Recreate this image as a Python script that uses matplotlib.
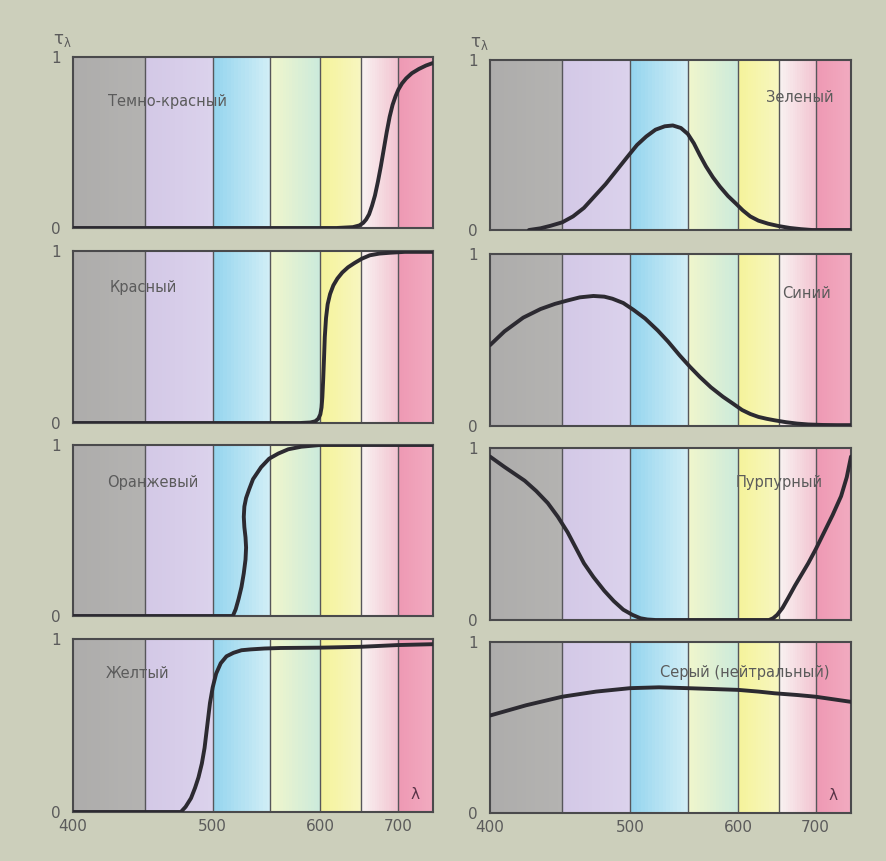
import numpy as np
import matplotlib
matplotlib.use("Agg")
import matplotlib.pyplot as plt
from matplotlib.colors import ListedColormap, to_rgb

plt.rcParams['font.family'] = ['DejaVu Sans']

# ---- spectral x-scale (wavelength -> relative position) ----
SCALE_NM = [400, 450, 500, 550, 600, 650, 700, 750]
SCALE_FR = [0.0, 0.200, 0.388, 0.548, 0.687, 0.800, 0.902, 1.0]

# ---- coloured spectral bands ----
band_edges = [400, 450, 500, 550, 600, 650, 700, 750]
band_colors = [
    ("#adacab", "#b4b3b1"),   # grey
    ("#d3c8e6", "#dbd2ec"),   # lavender
    ("#93d4ee", "#d2eef6"),   # blue
    ("#f1f6cc", "#cbeadb"),   # pale green
    ("#f5f39a", "#f7f6c0"),   # yellow
    ("#f9f4f2", "#f2c3d1"),   # white-pink
    ("#ee98b3", "#f1abc0"),   # pink-red
]

# ---- transmission curves tau(lambda) ----
darkred_nm  = [400, 620, 640, 648, 653, 657, 661, 665, 669, 673, 677, 681, 685, 689,
               693, 697, 701, 706, 712, 720, 730, 740, 750]
darkred_tau = [0, 0, 0.005, 0.015, 0.03, 0.05, 0.08, 0.13, 0.19, 0.27, 0.36, 0.46, 0.56, 0.65,
               0.72, 0.77, 0.81, 0.845, 0.875, 0.905, 0.93, 0.95, 0.965]

red_nm  = [400, 580, 590, 595, 598, 600, 601.5, 602.5, 603.5, 604.5, 605.5, 607, 609, 612,
           616, 621, 627, 634, 642, 651, 662, 675, 690, 710, 750]
red_tau = [0, 0, 0.003, 0.01, 0.025, 0.05, 0.09, 0.15, 0.25, 0.37, 0.5, 0.61, 0.69, 0.75,
           0.8, 0.84, 0.875, 0.905, 0.93, 0.955, 0.975, 0.985, 0.99, 0.995, 0.995]

orange_nm  = [400, 510, 517.5, 520, 522.5, 525, 527, 528.5, 529, 528.5, 527.5, 527, 527.5, 529,
              531.6, 535, 542, 549, 558, 568, 581, 600, 750]
orange_tau = [0, 0, 0, 0.04, 0.1, 0.17, 0.25, 0.33, 0.4, 0.46, 0.52, 0.58, 0.64, 0.69,
              0.74, 0.8, 0.87, 0.92, 0.95, 0.975, 0.99, 1.0, 1.0]

yellow_nm  = [400, 470, 476.5, 480, 484, 487, 489.5, 492, 494, 496, 498, 500, 503, 507, 512,
              518, 525, 533, 545, 560, 600, 650, 700, 750]
yellow_tau = [0, 0, 0, 0.03, 0.08, 0.14, 0.2, 0.28, 0.37, 0.5, 0.63, 0.72, 0.8, 0.86, 0.9,
              0.92, 0.935, 0.94, 0.945, 0.948, 0.95, 0.955, 0.965, 0.97]

green_nm  = [427, 435, 442, 450, 458, 466, 474, 482, 490, 498, 506, 514, 522, 530, 537, 544,
             550, 556, 562, 568, 575, 582, 590, 598, 606, 615, 625, 637, 650, 665, 680, 695, 750]
green_tau = [0, 0.01, 0.025, 0.045, 0.08, 0.13, 0.2, 0.27, 0.35, 0.43, 0.5, 0.55, 0.59, 0.61,
             0.615, 0.6, 0.565, 0.51, 0.44, 0.375, 0.31, 0.255, 0.2, 0.155, 0.115, 0.08, 0.055,
             0.037, 0.023, 0.012, 0.005, 0, 0]

blue_nm  = [400, 410, 423, 435, 445, 454, 463, 473, 481, 487, 495, 503, 513, 524, 533, 543,
            552, 562, 573, 585, 595, 605, 615, 625, 635, 645, 660, 675, 690, 710, 730, 750]
blue_tau = [0.47, 0.55, 0.63, 0.68, 0.71, 0.73, 0.748, 0.756, 0.752, 0.74, 0.715, 0.675,
            0.625, 0.555, 0.49, 0.41, 0.345, 0.285, 0.225, 0.17, 0.13, 0.093, 0.07, 0.053,
            0.042, 0.033, 0.022, 0.014, 0.009, 0.006, 0.005, 0.005]

purple_nm  = [400, 410, 424, 432, 440, 447, 454, 460, 466, 473, 481, 488, 495, 502, 509, 515,
              522, 638, 643, 648, 655, 663, 672, 681, 690, 700, 712, 724, 736, 744, 750]
purple_tau = [0.95, 0.89, 0.81, 0.75, 0.68, 0.6, 0.51, 0.42, 0.33, 0.25, 0.17, 0.11, 0.06,
              0.03, 0.01, 0.003, 0, 0, 0.01, 0.03, 0.07, 0.13, 0.2, 0.265, 0.33, 0.41, 0.51,
              0.61, 0.72, 0.83, 0.95]

grey_nm  = [400, 425, 450, 475, 500, 525, 550, 575, 600, 625, 645, 675, 700, 725, 750]
grey_tau = [0.57, 0.63, 0.68, 0.71, 0.73, 0.735, 0.73, 0.725, 0.72, 0.71, 0.70, 0.69, 0.68,
            0.665, 0.65]

panel_names = ["Темно-красный", "Зеленый", "Красный", "Синий",
               "Оранжевый", "Пурпурный", "Желтый", "Серый (нейтральный)"]
panel_curves = [(darkred_nm, darkred_tau), (green_nm, green_tau),
                (red_nm, red_tau), (blue_nm, blue_tau),
                (orange_nm, orange_tau), (purple_nm, purple_tau),
                (yellow_nm, yellow_tau), (grey_nm, grey_tau)]
label_pos = [(0.097, 0.74), (0.765, 0.78), (0.103, 0.79), (0.81, 0.77),
             (0.094, 0.78), (0.68, 0.80), (0.092, 0.80), (0.47, 0.82)]

x_ticks = [400, 500, 600, 700]
y_ticks = [0, 1]

# ---------------------------------------------------------------------------
NM = np.array(SCALE_NM, float)
FR = np.array(SCALE_FR, float)


def fwd(x):
    x = np.asarray(x, dtype=float)
    y = np.interp(x, NM, FR)
    y = np.where(x < NM[0], FR[0] + (x - NM[0]) * (FR[1] - FR[0]) / (NM[1] - NM[0]), y)
    y = np.where(x > NM[-1], FR[-1] + (x - NM[-1]) * (FR[-1] - FR[-2]) / (NM[-1] - NM[-2]), y)
    return y


def inv(y):
    y = np.asarray(y, dtype=float)
    x = np.interp(y, FR, NM)
    x = np.where(y < FR[0], NM[0] + (y - FR[0]) * (NM[1] - NM[0]) / (FR[1] - FR[0]), x)
    x = np.where(y > FR[-1], NM[-1] + (y - FR[-1]) * (NM[-1] - NM[-2]) / (FR[-1] - FR[-2]), x)
    return x


# gradient strips for the bands
n_sub = 16
strip_edges = []
strip_cols = []
for i in range(len(band_edges) - 1):
    a, b = band_edges[i], band_edges[i + 1]
    c0, c1 = np.array(to_rgb(band_colors[i][0])), np.array(to_rgb(band_colors[i][1]))
    e = np.linspace(a, b, n_sub + 1)
    strip_edges.extend(e[:-1] if i < len(band_edges) - 2 else e)
    for k in range(n_sub):
        t = (k + 0.5) / n_sub
        strip_cols.append(tuple(c0 * (1 - t) + c1 * t))
strip_edges = np.array(strip_edges)
cmap = ListedColormap(strip_cols)
C = np.arange(len(strip_cols)).reshape(1, -1)

BG = "#cccfbb"
fig = plt.figure(figsize=(8.86, 8.61), dpi=100, facecolor=BG)
W, H = 886.0, 861.0

left_x = (73, 433)
right_x = (490, 851)
left_rows = [(57, 228), (251, 423), (445, 616), (639, 812)]
right_rows = [(60, 230), (254, 426), (448, 620), (642, 813)]

TXT = "#5b5b5b"
for idx in range(8):
    r, c = divmod(idx, 2)
    xs = left_x if c == 0 else right_x
    ys = left_rows[r] if c == 0 else right_rows[r]
    ax = fig.add_axes([xs[0] / W, 1 - ys[1] / H, (xs[1] - xs[0]) / W, (ys[1] - ys[0]) / H])
    ax.set_xscale('function', functions=(fwd, inv))
    ax.set_xlim(400, 750)
    ax.set_ylim(0, 1)
    ax.pcolormesh(strip_edges, [0, 1], C, cmap=cmap, vmin=-0.5,
                  vmax=len(strip_cols) - 0.5, shading='flat', zorder=0)
    for e in band_edges[1:-1]:
        ax.axvline(e, color="#57565a", lw=1.0, zorder=1)
    nm, tau = panel_curves[idx]
    ax.plot(nm, tau, color="#2c2a31", lw=2.8, solid_capstyle='round',
            solid_joinstyle='round', zorder=3)
    for s in ax.spines.values():
        s.set_color("#4a4a4c")
        s.set_linewidth(1.5)
    ax.text(label_pos[idx][0], label_pos[idx][1], panel_names[idx],
            transform=ax.transAxes, fontsize=10.5, color=TXT, ha='left', va='center', zorder=4)
    ax.set_yticks(y_ticks)
    ax.set_yticklabels([str(v) for v in y_ticks])
    ax.tick_params(axis='y', length=0, pad=9, labelsize=11, labelcolor=TXT)
    ax.set_xticks(x_ticks)
    ax.xaxis.set_minor_locator(matplotlib.ticker.NullLocator())
    if r == 3:
        ax.set_xticklabels([str(v) for v in x_ticks])
        ax.tick_params(axis='x', length=0, pad=5, labelsize=11, labelcolor=TXT)
        ax.text(0.95, 0.1, "λ", transform=ax.transAxes, fontsize=11,
                color="#5a3448", ha='center', va='center', zorder=4)
    else:
        ax.set_xticklabels([])
        ax.tick_params(axis='x', length=0)
    if r == 0:
        ax.text(-0.03, 1.1, r"$\mathregular{τ_λ}$", transform=ax.transAxes, fontsize=12,
                color=TXT, ha='center', va='center')

fig.savefig("out.png", dpi=100, facecolor=BG)
